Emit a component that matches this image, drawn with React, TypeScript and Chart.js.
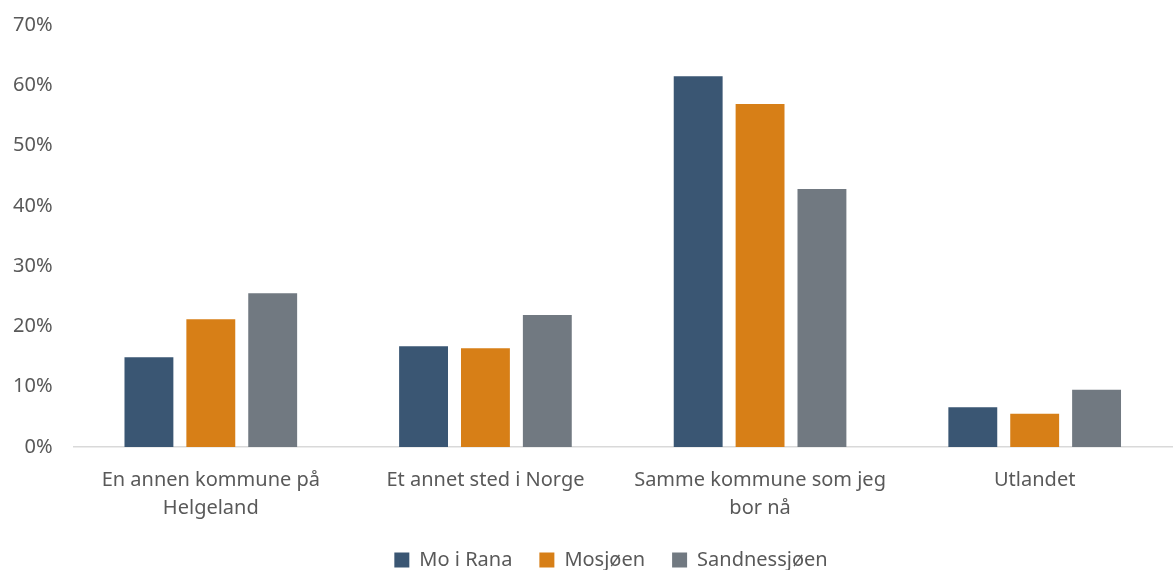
import React, { useEffect, useRef } from "react";
import { Chart, registerables } from "chart.js";

Chart.register(...registerables);

const categories: (string | string[])[] = [
  ["En annen kommune på", "Helgeland"],
  "Et annet sted i Norge",
  ["Samme kommune som jeg", "bor nå"],
  "Utlandet",
];
const seriesNames = ["Mo i Rana", "Mosjøen", "Sandnessjøen"];
const moIRana = [14.9, 16.7, 61.5, 6.6];
const mosjoen = [21.2, 16.4, 56.9, 5.5];
const sandnessjoen = [25.5, 21.9, 42.8, 9.5];
const colors = ["#3A5673", "#D77F17", "#717981"];

const legendShift = {
  id: "legendShift",
  afterLayout(chart: any) {
    if (chart.legend) {
      chart.legend.left += 25;
      chart.legend.right += 25;
    }
  },
};

export default function App() {
  const ref = useRef<HTMLCanvasElement>(null);
  useEffect(() => {
    if (!ref.current) return;
    const font = { family: "'Noto Sans', 'Open Sans', sans-serif", size: 20 };
    const chart = new Chart(ref.current, {
      type: "bar",
      data: {
        labels: categories,
        datasets: [moIRana, mosjoen, sandnessjoen].map((d, i) => ({
          label: seriesNames[i],
          data: d,
          backgroundColor: colors[i],
          categoryPercentage: 0.676,
          barPercentage: 0.79,
        })),
      },
      plugins: [legendShift],
      options: {
        animation: false,
        responsive: false,
        maintainAspectRatio: false,
        layout: { padding: { top: 9, right: 1, left: 0, bottom: -10 } },
        plugins: {
          tooltip: { enabled: false },
          legend: {
            position: "bottom",
            labels: {
              color: "#595959",
              font,
              boxWidth: 15,
              boxHeight: 15,
              padding: 27,
            },
          },
        },
        scales: {
          x: {
            grid: { display: false },
            border: { display: true, color: "#D9D9D9", width: 1.5 },
            ticks: { color: "#595959", font: { ...font, lineHeight: 1.4 }, padding: 11, maxRotation: 0, autoSkip: false },
            afterFit: (scale: any) => {
              scale.height -= 10;
            },
          },
          y: {
            min: 0,
            max: 70,
            grid: { display: false },
            border: { display: false },
            ticks: {
              stepSize: 10,
              color: "#595959",
              font,
              padding: 13,
              callback: (v: any) => v + "%",
            },
          },
        },
      },
    });
    return () => chart.destroy();
  }, []);
  return (
    <div style={{ position: "absolute", left: 0, top: 0, width: 1173, height: 570, background: "#fff" }}>
      <canvas ref={ref} width={1173} height={570} />
    </div>
  );
}
